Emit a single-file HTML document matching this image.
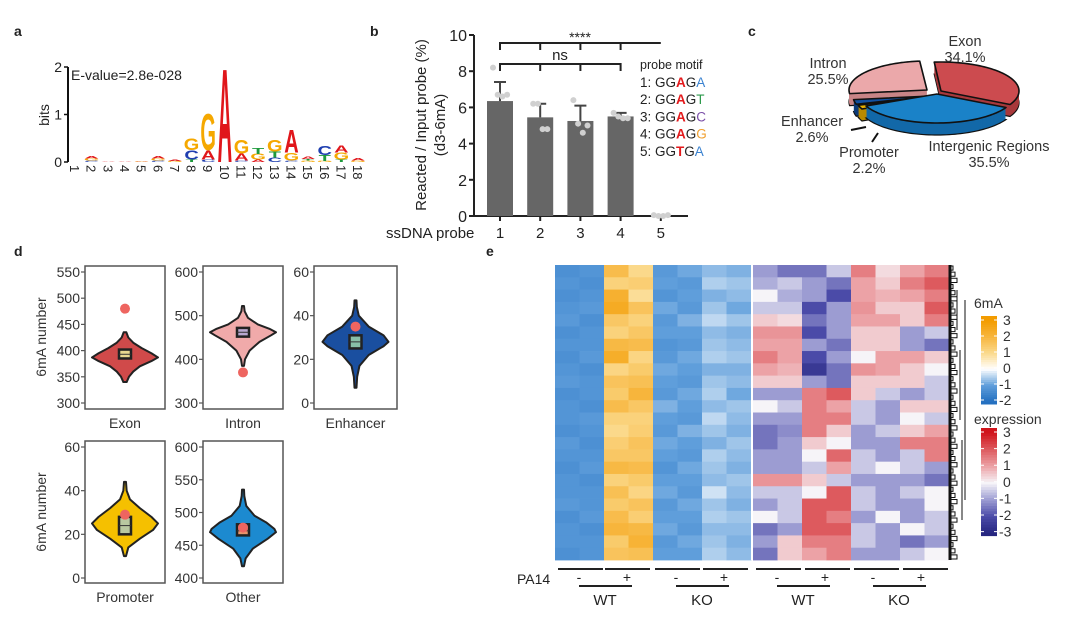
<!DOCTYPE html>
<html><head><meta charset="utf-8"><style>
html,body{margin:0;padding:0;background:#fff;}
svg{display:block;font-family:"Liberation Sans",Arial,sans-serif;}
</style></head><body>
<svg id="fig" width="1080" height="617" viewBox="0 0 1080 617">
<g font-weight="bold" font-size="14" fill="#222">
<text x="14" y="36">a</text>
<text x="370" y="36">b</text>
<text x="748" y="36">c</text>
<text x="14" y="256">d</text>
<text x="486" y="256">e</text>
</g>
<g id="pa"></g>
<g id="pb"></g>
<g id="pc"></g>
<g id="pd"></g>
<g id="pe"></g>
</svg>
<script>
// ---------- DATA ----------
// panel a
const logoPositions = [1,2,3,4,5,6,7,8,9,10,11,12,13,14,15,16,17,18];
const logoLetters = [[],["C","G","A"],["A"],["A"],["G","A"],["C","G","A"],["G","A"],["T","C","G"],["C","A","G"],["A"],["C","A","G"],["A","G","T"],["C","T","G"],["C","G","A"],["G","T","A"],["G","T","C"],["T","G","A"],["G","A"]];
const logoHeights = [[],[0.03,0.04,0.06],[0.01],[0.01],[0.01,0.01],[0.03,0.04,0.06],[0.02,0.02],[0.05,0.2,0.25],[0.05,0.2,0.8],[2.05],[0.03,0.15,0.3],[0.05,0.12,0.13],[0.1,0.12,0.25],[0.03,0.17,0.5],[0.03,0.03,0.05],[0.02,0.13,0.2],[0.05,0.15,0.15],[0.03,0.05]];
const logoTicks = [0,1,2];
// panel b
const probeCats = ["1","2","3","4","5"];
const probeMeans = [6.35,5.45,5.25,5.5,0];
const probeErr = [1.05,0.75,0.85,0.2,0];
const probeDots = [[8.2,6.7,6.6,6.7],[6.2,6.2,4.8,4.8],[6.4,5.1,4.6,5.0],[5.7,5.5,5.4,5.4],[0.05,0,0,0.05]];
const probeTicks = [0,2,4,6,8,10];
const motifPre = ["1: GG","2: GG","3: GG","4: GG","5: GG"];
const motifMid = ["A","A","A","A","T"];
const motifPost = ["G","G","G","G","G"];
const motifLast = ["A","T","C","G","A"];
// panel c
const pieNames = ["Exon","Intergenic Regions","Promoter","Enhancer","Intron"];
const pieShares = [34.1,35.5,2.2,2.6,25.5];
// panel d
const violinNames = ["Exon","Intron","Enhancer","Promoter","Other"];
const violinVals = [[340,350,360,370,380,387,395,405,415,425,435],[385,400,420,440,455,462,470,480,495,510,522],[7,12,17,22,26,28,31,35,40,44,47],[10,14,18,22,25,28,32,36,40,44],[418,430,445,460,470,475,485,495,510,525,535]];
const violinDens = [[0.05,0.12,0.25,0.45,0.8,1.0,0.8,0.5,0.25,0.1,0.04],[0.03,0.06,0.2,0.5,0.85,1.0,0.8,0.45,0.15,0.05,0.03],[0.03,0.05,0.12,0.4,0.85,1.0,0.85,0.4,0.1,0.04,0.03],[0.03,0.1,0.45,0.85,1.0,0.8,0.45,0.15,0.05,0.03],[0.03,0.08,0.3,0.75,1.0,0.95,0.7,0.35,0.1,0.04,0.03]];
const violinBox = [[385,393,402],[452,462,472],[25,28,31],[20,24,28],[465,472,482]];
const violinObs = [480,370,35,29,477];
const violinTicks = [[300,350,400,450,500,550],[300,400,500,600],[0,20,40,60],[0,20,40,60],[400,450,500,550,600]];
// panel e
const heatCols = ["WT- r1","WT- r2","WT+ r1","WT+ r2","KO- r1","KO- r2","KO+ r1","KO+ r2"];
const m6A = [
[-1.3,-1.2,-1.3,-1.2,-1.1,-1.3,-1.2,-1.3,-1.2,-1.1,-1.3,-1.2,-1.2,-1.3,-1.1,-1.2,-1.3,-1.2,-1.2,-1.1,-1.3,-1.2,-1.2,-1.3],
[-1.2,-1.3,-1.2,-1.1,-1.3,-1.2,-1.2,-1.1,-1.3,-1.2,-1.2,-1.3,-1.1,-1.2,-1.3,-1.2,-1.1,-1.3,-1.2,-1.2,-1.1,-1.3,-1.2,-1.2],
[1.8,1.2,2.2,2.4,1.5,1.2,1.9,2.3,1.1,1.6,1.4,1.8,1.2,1.0,1.3,1.5,1.9,1.2,1.7,1.4,1.8,2.0,1.4,1.6],
[1.0,1.3,0.9,1.6,1.2,1.5,1.8,1.1,1.4,1.7,2.0,1.5,1.2,1.3,1.6,1.5,1.8,1.4,1.1,1.6,1.3,1.9,2.1,1.7],
[-1.1,-1.0,-1.2,-0.9,-1.1,-1.0,-1.2,-1.1,-0.9,-1.0,-1.1,-0.8,-1.0,-1.1,-0.9,-1.0,-1.2,-1.0,-0.9,-1.1,-1.0,-0.9,-1.1,-1.0],
[-0.9,-1.1,-1.0,-1.1,-0.8,-1.0,-1.1,-0.9,-1.0,-1.1,-0.9,-1.0,-1.1,-0.8,-1.0,-1.1,-0.9,-1.0,-1.1,-0.9,-1.0,-1.1,-0.9,-1.0],
[-0.7,-0.5,-0.8,-0.6,-0.4,-0.7,-0.6,-0.5,-0.8,-0.6,-0.5,-0.7,-0.4,-0.6,-0.8,-0.5,-0.6,-0.7,-0.3,-0.6,-0.5,-0.7,-0.6,-0.5],
[-0.8,-0.6,-0.7,-0.9,-0.6,-0.8,-0.7,-0.6,-0.8,-0.7,-0.9,-0.6,-0.7,-0.8,-0.6,-0.7,-0.8,-0.6,-0.7,-0.8,-0.6,-0.7,-0.8,-0.7]];
const expr = [
[-1,-0.8,0,-0.5,0.5,1.2,1,1.5,1,0.5,-1,0,-1,-1.5,-1.5,-1,-1,1.2,-0.5,-1,0,-1.5,-1,-1.5],
[-1.5,-0.5,-0.8,-0.5,0.3,1.2,1,1,0.8,0.5,-1,-0.5,-1,-1.2,-1,-1,-1,1.2,-0.5,-0.5,-0.5,-1,0.5,0.5],
[-1.5,-1,-1,-2,-1.5,-2,-1,-2,-2.5,-1,1.5,1.5,1.5,1.5,0.5,0,-0.5,0.5,0,2,2,2,1.5,1],
[-0.5,-1.5,-2,-1,-1,-1,-1.5,-1,-1.5,-1.5,2,1,1.5,0.5,0,1.8,1,-0.5,2,2,1.5,2,1.5,1.5],
[1.5,1,1,1.2,1,0.5,0.5,0,1.2,0.5,0.5,-0.5,-0.5,-1,-1,-0.5,-0.5,-1,-0.5,-0.5,-1,-0.5,-0.5,-1],
[0.3,0.5,0.8,0.5,1,0.5,0.5,1,1,0.5,-0.5,-1,-1,-0.5,-1,-1,0,-1,-1,-1,0,-1,-1,-1],
[1,1.5,1,0.5,0.5,-1,-1,1,0.5,0.5,-1,0.5,0,0.5,1.5,-0.5,-0.5,-1,-0.5,-1,-1,0,-1.5,-0.5],
[1.5,2,1.5,2,1.5,-0.5,-1.5,0.5,0,-0.5,-0.5,0.5,-0.5,1,1.5,1.5,-1,-1.5,0,0,-0.5,-0.5,-1,0]];
const legendTicks6mA = [3,2,1,0,-1,-2];
const legendTicksExpr = [3,2,1,0,-1,-2,-3];
const groupLabels = ["WT","KO","WT","KO"];

// ---------- HELPERS ----------
const NS="http://www.w3.org/2000/svg";
function mk(tag,attrs,parent,txt){const e=document.createElementNS(NS,tag);for(const k in attrs)e.setAttribute(k,attrs[k]);if(txt!==undefined)e.textContent=txt;parent.appendChild(e);return e;}
function lerpColor(stops,v){if(v<=stops[0][0])return stops[0][1];for(let i=1;i<stops.length;i++){if(v<=stops[i][0]){const [a,ca]=stops[i-1],[b,cb]=stops[i];const t=(v-a)/(b-a);const p=h=>[1,3,5].map(j=>parseInt(h.substr(j,2),16));const A=p(ca),B=p(cb);return "rgb("+A.map((x,j)=>Math.round(x+(B[j]-x)*t)).join(",")+")";}}return stops[stops.length-1][1];}
const stops6 = [[-2,"#2470c0"],[-1,"#5f9edb"],[0,"#ffffff"],[1,"#fbd98b"],[2,"#f7b53c"],[3,"#f39c00"]];
const stopsE = [[-3,"#262680"],[-2,"#4b4ba8"],[-1,"#9c9cd2"],[0,"#f6f4f8"],[1,"#eca2a6"],[2,"#dd5a5e"],[3,"#d0141c"]];

// ---------- PANEL A ----------
(function(){
const g=document.getElementById("pa");
const xA=p=>75+(p-1)*16.65, yA=b=>162-b*47.5;
let ax=mk("line",{x1:68,y1:yA(2),x2:68,y2:yA(0),stroke:"#111","stroke-width":2},g);


logoTicks.forEach(t=>{
 let l=mk("line",{x1:64,x2:68,y1:yA(t),y2:yA(t),stroke:"#111","stroke-width":1.5},g);
 
 
 let tx=mk("text",{x:62,y:yA(t)+5,"font-size":14,"text-anchor":"end",fill:"#222"},g,String(t));
 
 
});
let bt=mk("text",{transform:"translate(49,115) rotate(-90)","font-size":14,"text-anchor":"middle",fill:"#222"},g,"bits");


let ev=mk("text",{x:71,y:80,"font-size":14,fill:"#222"},g,"E-value=2.8e-028");


const col={A:"#e0161b",C:"#1f3fb0",G:"#f5a800",T:"#1e9a3c"};
logoPositions.forEach((p,i)=>{
 let tl=mk("text",{transform:`translate(${xA(p)-5},165) rotate(90)`,"font-size":13,fill:"#222"},g,String(p));
 
 
 let base=0;
 logoLetters[i].forEach((L,j)=>{
  const h=logoHeights[i][j];const hp=h*47.5;
  const t=mk("text",{transform:`translate(${xA(p)},${yA(base)}) scale(2.0,${hp/7.29})`,"font-size":10,"font-weight":"bold","text-anchor":"middle",fill:col[L]},g,L);
  
  
  base+=h;
 });
});
})();

// ---------- PANEL B ----------
(function(){
const g=document.getElementById("pb");
const y0=216,y10=35,yB=v=>y0-(y0-y10)*v/10,xB=i=>500+i*40.2;
let ya=mk("line",{x1:474,y1:y10,x2:474,y2:y0,stroke:"#222","stroke-width":2},g);


let xa=mk("line",{x1:474,y1:y0,x2:688,y2:y0,stroke:"#222","stroke-width":2},g);


probeTicks.forEach(t=>{
 let l=mk("line",{x1:469,x2:474,y1:yB(t),y2:yB(t),stroke:"#222","stroke-width":2},g);
 
 
 let tx=mk("text",{x:467,y:yB(t)+6,"font-size":16,"text-anchor":"end",fill:"#222"},g,String(t));
 
 
});
let t1=mk("text",{transform:"translate(426,125) rotate(-90)","font-size":15,"text-anchor":"middle",fill:"#222"},g,"Reacted / Input probe (%)");


let t2=mk("text",{transform:"translate(445,125) rotate(-90)","font-size":15,"text-anchor":"middle",fill:"#222"},g,"(d3-6mA)");


let t3=mk("text",{x:386,y:238,"font-size":15,fill:"#222"},g,"ssDNA probe");


probeCats.forEach((c,i)=>{
 const x=xB(i);
 let tx=mk("text",{x:x,y:238,"font-size":15,"text-anchor":"middle",fill:"#222"},g,c);
 
 
 let tk=mk("line",{x1:x,x2:x,y1:y0,y2:y0+5,stroke:"#222","stroke-width":2},g);
 
 
 if(probeMeans[i]>0){
  let r=mk("rect",{x:x-13,y:yB(probeMeans[i]),width:26,height:y0-yB(probeMeans[i]),fill:"#666"},g);
  
  
  const ye=yB(probeMeans[i]+probeErr[i]);
  let e=mk("path",{d:`M${x},${yB(probeMeans[i])}V${ye}M${x-6},${ye}H${x+6}`,stroke:"#444","stroke-width":2,fill:"none"},g);
  
  
 }
 probeDots[i].forEach((d,j)=>{
  let c2=mk("circle",{cx:x-7+j*4.7,cy:yB(d),r:3,fill:"#d0d0d0"},g);
  
  
 });
});
let s1=mk("path",{d:`M${xB(0)},50V43H${xB(4)}M${xB(1)},43V50M${xB(2)},43V50M${xB(3)},43V50`,stroke:"#222","stroke-width":2,fill:"none"},g);


let s1t=mk("text",{x:580,y:42,"font-size":14,"text-anchor":"middle",fill:"#222"},g,"****");


let s2=mk("path",{d:`M${xB(0)},71V64H${xB(3)}V71M${xB(1)},64V71M${xB(2)},64V71`,stroke:"#222","stroke-width":2,fill:"none"},g);


let s2t=mk("text",{x:560,y:60,"font-size":15,"text-anchor":"middle",fill:"#222"},g,"ns");


let lh=mk("text",{x:640,y:69,"font-size":12.5,fill:"#222"},g,"probe motif");


const lc={A:"#3a82d0",T:"#2e9a4c",C:"#7b4fa8",G:"#f0a030"};
motifPre.forEach((p,i)=>{
 const t=mk("text",{x:640,y:87+i*17.2,"font-size":13.5,fill:"#222"},g);
 
 
 mk("tspan",{},t,p);
 mk("tspan",{fill:"#e31a1c","font-weight":"bold"},t,motifMid[i]);
 mk("tspan",{},t,motifPost[i]);
 mk("tspan",{fill:lc[motifLast[i]]},t,motifLast[i]);
});
})();

// ---------- PANEL C ----------
(function(){
const g=document.getElementById("pc");
const cx=937,cy=94,rx=78,ry=29,depth=12;
const colors=["#cc4b4f","#1a82c8","#e8b000","#1250a0","#eba8aa"];
const darks=["#a8393c","#1268a8","#b88a00","#0c3a78","#c88486"];
const offs=[[4,-3],[0,0],[-4,3],[-6,2],[-10,-4]];
let start=-95;
const slices=pieShares.map((s,i)=>{const a0=start;const a1=start+s*3.6;start=a1;return {i,a0,a1};});
const order=[0,4,3,2,1];
function path(a0,a1,ox,oy){
 const r=Math.PI/180;let d=`M${cx+ox},${cy+oy}`;
 for(let a=a0;a<=a1+0.001;a+=Math.max(0.5,(a1-a0)/60)){d+=`L${cx+ox+rx*Math.cos(a*r)},${cy+oy+ry*Math.sin(a*r)}`;}
 d+=`L${cx+ox+rx*Math.cos(a1*r)},${cy+oy+ry*Math.sin(a1*r)}Z`;return d;}
order.forEach(k=>{
 const s=slices[k];const [ox,oy]=offs[k];
 const grp=mk("g",{},g);
 
 
 for(let dd=depth;dd>0;dd--){
  mk("path",{d:path(s.a0,s.a1,ox,oy+dd),fill:darks[k],stroke:dd===depth?"#111":"none","stroke-width":1.2},grp);
 }
 mk("path",{d:path(s.a0,s.a1,ox,oy),fill:colors[k],stroke:"#111","stroke-width":1.6,"stroke-linejoin":"round"},grp);
});
const labs=[["Exon",965,41],["Intron",828,63],["Enhancer",812,121],["Promoter",869,152],["Intergenic Regions",989,146]];
labs.forEach(l=>{
 const name=l[0];const pct=pieShares[pieNames.indexOf(name)].toFixed(1)+"%";
 let a=mk("text",{x:l[1],y:l[2]+5,"font-size":14.5,"text-anchor":"middle",fill:"#333"},g,name);
 
 
 let b=mk("text",{x:l[1],y:l[2]+21,"font-size":14.5,"text-anchor":"middle",fill:"#333"},g,pct);
 
 
});
let ll=mk("path",{d:"M851,130L866,127M872,142L878,133",stroke:"#111","stroke-width":2},g);


})();

// ---------- PANEL D ----------
(function(){
const g=document.getElementById("pd");
const boxes=[[85,266,165,409],[203,266,283,409],[314,266,397,409],[85,441,165,583],[203,441,283,583]];
const tickY=[[272,403],[272,403],[272,403],[447,578],[447,578]];
const fills=["#d04a4a","#f0aaaa","#1a4fa0","#f5c000","#1c8ad0"];
const bfill=["#e8d890","#b8a8d0","#88c0a8","#b8c8a0","#e8946a"];
violinNames.forEach((n,i)=>{
 const [x0,yt,x1,ybm]=boxes[i];const tk=violinTicks[i];
 const lo=tk[0],hi=tk[tk.length-1];
 const yS=v=>tickY[i][1]-(tickY[i][1]-tickY[i][0])*(v-lo)/(hi-lo);
 const cxv=(x0+x1)/2,hw=33;
 let fr=mk("rect",{x:x0,y:yt,width:x1-x0,height:ybm-yt,fill:"#fff",stroke:"#555","stroke-width":1.5},g);
 
 
 tk.forEach(t=>{
  let l=mk("line",{x1:x0-4,x2:x0,y1:yS(t),y2:yS(t),stroke:"#555","stroke-width":1.2},g);
  
  
  let tx=mk("text",{x:x0-5,y:yS(t)+5,"font-size":14,"text-anchor":"end",fill:"#333"},g,String(t));
  
  
 });
 let xl=mk("text",{x:cxv,y:ybm+19,"font-size":14,"text-anchor":"middle",fill:"#333"},g,n);
 
 
 const vals=violinVals[i],den=violinDens[i];
 let d="M"+cxv+","+yS(vals[0]);
 vals.forEach((v,j)=>{d+=`L${cxv+hw*den[j]},${yS(v)}`;});
 d+=`L${cxv},${yS(vals[vals.length-1])}`;
 for(let j=vals.length-1;j>=0;j--)d+=`L${cxv-hw*den[j]},${yS(vals[j])}`;
 d+="Z";
 let sp=mk("line",{x1:cxv,x2:cxv,y1:yS(vals[0]),y2:yS(vals[vals.length-1]),stroke:"#222","stroke-width":4},g);
 
 
 let vp=mk("path",{d:d,fill:fills[i],stroke:"#222","stroke-width":2,"stroke-linejoin":"round"},g);
 
 
 const [q1,md,q3]=violinBox[i];
 let bx=mk("rect",{x:cxv-6,y:yS(q3),width:12,height:yS(q1)-yS(q3),fill:bfill[i],stroke:"#222","stroke-width":2.5},g);
 
 
 let ml=mk("line",{x1:cxv-6,x2:cxv+6,y1:yS(md),y2:yS(md),stroke:"#333","stroke-width":1},g);
 
 
 let ob=mk("circle",{cx:cxv,cy:yS(violinObs[i]),r:5,fill:"#ee6560"},g);
 
 
});
[337,512].forEach(y=>{
 let t=mk("text",{transform:`translate(46,${y}) rotate(-90)`,"font-size":14,"text-anchor":"middle",fill:"#333"},g,"6mA number");
 
 
});
})();

// ---------- PANEL E ----------
(function(){
const g=document.getElementById("pe");
const top=265,bot=560,nRows=m6A[0].length,rh=(bot-top)/nRows,cw=24.5;
const blocks=[[555,m6A,stops6],[753,expr,stopsE]];
blocks.forEach(([bx,data,st],bi)=>{
 heatCols.forEach((c,ci)=>{
  data[ci].forEach((v,ri)=>{
   let r=mk("rect",{x:bx+ci*cw,y:top+ri*rh,width:cw+0.4,height:rh+0.4,fill:lerpColor(st,v)},g);
   
   
  });
 });
});
// dendrogram
let dg="";
for(let ri=0;ri<nRows*2;ri++){const y=top+ri*rh/2;dg+=`M950,${y+1}H${953+(ri%3)*2}V${y+rh/2-1}H950`;}
dg+=`M957,290V330M960,350V420M962,440V520M965,300V500`;
let dp=mk("path",{d:dg,stroke:"#111","stroke-width":1,fill:"none"},g);


let dl=mk("line",{x1:950,x2:950,y1:265,y2:560,stroke:"#111","stroke-width":3},g);


// annotations
const segs=[558,605,655,703,756,805,854,903];
segs.forEach(x=>{
 let l=mk("line",{x1:x,x2:x+45,y1:569,y2:569,stroke:"#222","stroke-width":2},g);
 
 
});
let pa=mk("text",{x:517,y:584,"font-size":14,fill:"#222"},g,"PA14");


const gstart=[579,676,777,873];
groupLabels.forEach((lab,i)=>{
 const x=gstart[i];
 let m=mk("text",{x:x,y:582,"font-size":14,"text-anchor":"middle",fill:"#222"},g,"-");
 
 
 let p=mk("text",{x:x+48,y:582,"font-size":14,"text-anchor":"middle",fill:"#222"},g,"+");
 
 
 let u=mk("line",{x1:x,x2:x+53,y1:586,y2:586,stroke:"#222","stroke-width":2},g);
 
 
 let t=mk("text",{x:x+26,y:605,"font-size":15,"text-anchor":"middle",fill:"#222"},g,lab);
 
 
});
// legends
function legend(title,ty,ticks,st,y0,unit,name){
 let t=mk("text",{x:974,y:ty,"font-size":14,fill:"#333"},g,title);
 
 
 const hi=ticks[0],lo=ticks[ticks.length-1];
 const steps=40;
 for(let k=0;k<steps;k++){
  const v=hi-(hi-lo+0.4)*(k/steps)+0.2;
  let r=mk("rect",{x:981,y:y0-4+k*((hi-lo)*unit+8)/steps,width:16,height:((hi-lo)*unit+8)/steps+0.5,fill:lerpColor(st,v)},g);
  
  
 }
 ticks.forEach(v=>{
  const y=y0+(hi-v)*unit;
  let l=mk("path",{d:`M981,${y}h3M994,${y}h3`,stroke:"#fff","stroke-width":1},g);
  
  
  let tx=mk("text",{x:v<0?999:1003,y:y+5,"font-size":14,fill:"#333"},g,String(v));
  
  
 });
}
legend("6mA",308,legendTicks6mA,stops6,320,16,'legend-6ma');
legend("expression",424,legendTicksExpr,stopsE,432,16.6,'legend-expression');
// separator
let sep=mk("rect",{x:751,y:265,width:2,height:295,fill:"#fff"},g);


})();
</script>
</body></html>
